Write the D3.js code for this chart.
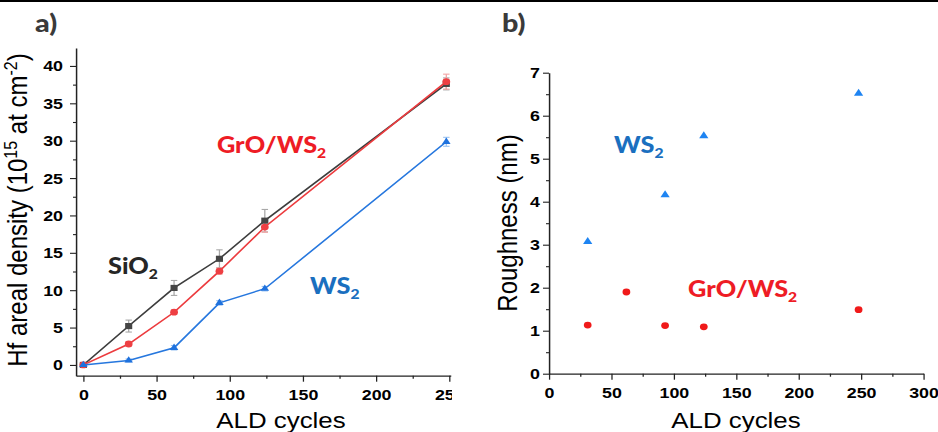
<!DOCTYPE html>
<html>
<head>
<meta charset="utf-8">
<script src="https://cdn.jsdelivr.net/npm/d3@7"></script>
<style>
  body { margin: 0; background: #fff; }
  svg { display: block; }
</style>
</head>
<body>
<svg width="938" height="432"></svg>
<script>
// panel a) Hf areal density vs ALD cycles
var cycles = [0, 31, 62, 93, 124, 248];
var sio2 = [0, 5.2, 10.3, 14.2, 19.3, 37.6];
var sio2Err = [0.2, 0.8, 1.0, 1.2, 1.5, 0.8];
var grows2 = [0, 2.8, 7.05, 12.55, 18.45, 37.9];
var grows2Err = [0.2, 0.3, 0.3, 0.4, 0.7, 1.0];
var ws2 = [0, 0.6, 2.3, 8.3, 10.2, 29.85];
var ws2Err = [0.1, 0.2, 0.3, 0.3, 0.3, 0.6];
var xTicksA = [0, 50, 100, 150, 200, 250];
var xMinorA = [25, 75, 125, 175, 225];
var yTicksA = [0, 5, 10, 15, 20, 25, 30, 35, 40];
var yMinorA = [2.5, 7.5, 12.5, 17.5, 22.5, 27.5, 32.5, 37.5];

// panel b) roughness vs ALD cycles
var roughCyclesWs2 = [31, 93, 124, 248];
var roughWs2 = [3.07, 4.16, 5.53, 6.52];
var roughCyclesGro = [31, 62, 93, 124, 248];
var roughGro = [1.13, 1.9, 1.12, 1.09, 1.49];
var xTicksB = [0, 50, 100, 150, 200, 250, 300];
var xMinorB = [25, 75, 125, 175, 225, 275];
var yTicksB = [0, 1, 2, 3, 4, 5, 6, 7];
var yMinorB = [0.5, 1.5, 2.5, 3.5, 4.5, 5.5, 6.5];

// the original figure is stretched sideways, so everything is drawn
// in a narrower space and scaled up by SX
var SX = 1.15;
function px(v) { return v / SX; }

var svg = d3.select("svg");

// thin black rule along the top edge
svg.append("rect").attr("x", 0).attr("y", 0).attr("width", 938).attr("height", 2).attr("fill", "#000");

var root = svg.append("g").attr("transform", "scale(" + SX + ",1)");

svg.append("defs").append("clipPath").attr("id", "clipA")
  .append("rect").attr("x", 0).attr("y", 0).attr("width", px(452)).attr("height", 432);

var axisFont = "'Liberation Sans', Arial, sans-serif";
var noteFont = "Lato, 'Open Sans', sans-serif";

function drawAxes(g, x, y, opt) {
  var xa = g.append("g").attr("transform", "translate(0," + y.range()[0] + ")")
    .call(d3.axisBottom(x).tickValues(opt.xt).tickSize(6).tickSizeOuter(0).tickPadding(7).tickFormat(d3.format("d")));
  g.append("g").attr("transform", "translate(0," + y.range()[0] + ")")
    .call(d3.axisBottom(x).tickValues(opt.xm).tickSize(3).tickSizeOuter(0).tickFormat(""))
    .select(".domain").remove();
  var ya = g.append("g").attr("transform", "translate(" + x.range()[0] + ",0)")
    .call(d3.axisLeft(y).tickValues(opt.yt).tickSize(px(6)).tickSizeOuter(0).tickPadding(opt.ypad).tickFormat(d3.format("d")));
  g.append("g").attr("transform", "translate(" + x.range()[0] + ",0)")
    .call(d3.axisLeft(y).tickValues(opt.ym).tickSize(px(3)).tickSizeOuter(0).tickFormat(""))
    .select(".domain").remove();
  g.selectAll(".domain").attr("stroke", "#222").attr("stroke-width", 1.3);
  g.selectAll(".tick line").attr("stroke", "#222").attr("stroke-width", 1.1);
  [xa, ya].forEach(function(a) {
    a.selectAll("text").attr("fill", "#000")
      .style("font-family", axisFont).style("font-size", "15.5px").style("font-weight", "bold");
  });
}

function label(g, x, y, txt, rotate) {
  return g.append("text")
    .attr("transform", "translate(" + x + "," + y + ")" + (rotate ? " rotate(-90)" : ""))
    .attr("text-anchor", "middle")
    .style("font-family", axisFont).style("font-size", rotate ? "24px" : "22.5px").attr("fill", "#000")
    .text(txt);
}

function note(g, x, y, main, sub, color, size) {
  var t = g.append("text").attr("x", x).attr("y", y)
    .style("font-family", noteFont).style("font-weight", "900")
    .style("font-size", size + "px").attr("fill", color);
  t.append("tspan").text(main);
  if (sub) t.append("tspan").attr("dy", size * 0.22).style("font-size", (size * 0.62) + "px").text(sub);
}

function errorBars(g, x, y, xs, ys, es, color) {
  var cap = 2.8;
  var d = xs.map(function(v, i) { return [v, ys[i], es[i]]; });
  var eb = g.append("g").attr("stroke", color).attr("stroke-width", 1.1).attr("fill", "none");
  d.forEach(function(p) {
    var cx = x(p[0]), y1 = y(p[1] - p[2]), y2 = y(p[1] + p[2]);
    eb.append("line").attr("x1", cx).attr("x2", cx).attr("y1", y1).attr("y2", y2);
    eb.append("line").attr("x1", cx - cap).attr("x2", cx + cap).attr("y1", y1).attr("y2", y1);
    eb.append("line").attr("x1", cx - cap).attr("x2", cx + cap).attr("y1", y2).attr("y2", y2);
  });
}

function series(g, x, y, xs, ys, color, markerColor, symbol, size, withLine) {
  var d = xs.map(function(v, i) { return [v, ys[i]]; });
  if (withLine) {
    g.append("path").datum(d)
      .attr("fill", "none").attr("stroke", color).attr("stroke-width", 1.5)
      .attr("d", d3.line().x(function(p) { return x(p[0]); }).y(function(p) { return y(p[1]); }));
  }
  g.selectAll(null).data(d).enter().append("path")
    .attr("transform", function(p) { return "translate(" + x(p[0]) + "," + y(p[1]) + ")"; })
    .attr("d", d3.symbol().type(symbol).size(size))
    .attr("fill", markerColor);
}

// ---------- panel a ----------
var gA = root.append("g").attr("clip-path", "url(#clipA)");
var xA = d3.scaleLinear().domain([-5, 251]).range([px(76), px(450.7)]);
var yA = d3.scaleLinear().domain([-1.44, 42.4]).range([375.7, 48]);

drawAxes(gA, xA, yA, { xt: xTicksA, xm: xMinorA, yt: yTicksA, ym: yMinorA, ypad: px(7) });

errorBars(gA, xA, yA, cycles, sio2, sio2Err, "#a8a8a8");
errorBars(gA, xA, yA, cycles, grows2, grows2Err, "#f2a4a4");
errorBars(gA, xA, yA, cycles, ws2, ws2Err, "#9cc3f0");
series(gA, xA, yA, cycles, sio2, "#3d3d3d", "#454545", d3.symbolSquare, 38, true);
series(gA, xA, yA, cycles, grows2, "#ec3b3e", "#ee3f43", d3.symbolCircle, 36, true);
series(gA, xA, yA, cycles, ws2, "#2677de", "#1f72de", d3.symbolTriangle, 24, true);

var yLabA = label(root, px(27), 210, "", true);
yLabA.append("tspan").text("Hf areal density (10");
yLabA.append("tspan").attr("dy", -9).style("font-size", "16px").text("15");
yLabA.append("tspan").attr("dy", 9).text(" at cm");
yLabA.append("tspan").attr("dy", -9).style("font-size", "16px").text("-2");
yLabA.append("tspan").attr("dy", 9).text(")");
label(root, px(281), 428, "ALD cycles", false);

note(root, px(35), 32, "a)", null, "#3a3a3a", 25);
note(root, px(217), 153, "GrO/WS", "2", "#ee1c25", 22);
note(root, px(108), 274, "SiO", "2", "#262626", 22);
note(root, px(310), 294, "WS", "2", "#1a6fbf", 22);

// ---------- panel b ----------
var gB = root.append("g");
var xB = d3.scaleLinear().domain([0, 300]).range([px(549), px(923.5)]);
var yB = d3.scaleLinear().domain([0, 7]).range([373.7, 72.7]);

drawAxes(gB, xB, yB, { xt: xTicksB, xm: xMinorB, yt: yTicksB, ym: yMinorB, ypad: px(3) });

series(gB, xB, yB, roughCyclesWs2, roughWs2, null, "#1e84f2", d3.symbolTriangle, 28, false);
series(gB, xB, yB, roughCyclesGro, roughGro, null, "#f01a1a", d3.symbolCircle, 36, false);

label(root, px(517), 223, "Roughness (nm)", true);
label(root, px(736), 428, "ALD cycles", false);

note(root, px(502), 32, "b)", null, "#3a3a3a", 25);
note(root, px(614), 153, "WS", "2", "#1a6fbf", 22);
note(root, px(688), 297, "GrO/WS", "2", "#ee1c25", 22);
</script>
</body>
</html>
